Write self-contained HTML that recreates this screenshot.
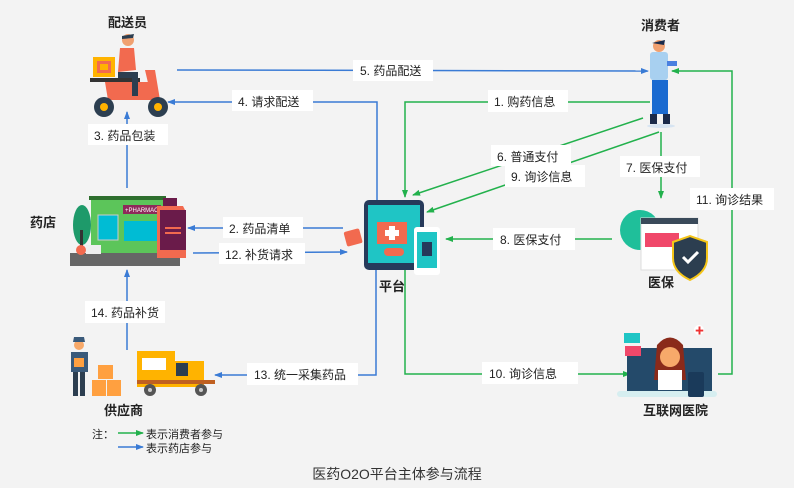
<!DOCTYPE html>
<html><head><meta charset="utf-8"><style>
html,body{margin:0;padding:0;background:#f3f3f3;}
svg{display:block;font-family:"Liberation Sans","Noto Sans CJK SC",sans-serif;}
.t{font-size:12px;fill:#222;}
.h{font-size:13px;font-weight:bold;fill:#222;}
</style></head><body>
<svg width="794" height="488" viewBox="0 0 794 488">
<defs>
<marker id="ab" markerWidth="8" markerHeight="8" refX="7" refY="4" orient="auto" markerUnits="userSpaceOnUse"><path d="M0,1 L8,4 L0,7 Z" fill="#3a7bd5"/></marker>
<marker id="ag" markerWidth="8" markerHeight="8" refX="7" refY="4" orient="auto" markerUnits="userSpaceOnUse"><path d="M0,1 L8,4 L0,7 Z" fill="#22b14c"/></marker>
</defs>
<rect width="794" height="488" fill="#f3f3f3"/>
<g fill="none" stroke-width="1.5">
<!-- blue -->
<path d="M177,70 L648,71" stroke="#3a7bd5" marker-end="url(#ab)"/>
<path d="M377,205 L377,102 L168,102" stroke="#3a7bd5" marker-end="url(#ab)"/>
<path d="M127,188 L127,112" stroke="#3a7bd5" marker-end="url(#ab)"/>
<path d="M343,228 L188,228" stroke="#3a7bd5" marker-end="url(#ab)"/>
<path d="M193,253 L347,252" stroke="#3a7bd5" marker-end="url(#ab)"/>
<path d="M127,350 L127,270" stroke="#3a7bd5" marker-end="url(#ab)"/>
<path d="M376,262 L376,375 L215,375" stroke="#3a7bd5" marker-end="url(#ab)"/>
<!-- green -->
<path d="M650,102 L405,102 L405,197" stroke="#22b14c" marker-end="url(#ag)"/>
<path d="M643,118 L413,195" stroke="#22b14c" marker-end="url(#ag)"/>
<path d="M659,132 L427,212" stroke="#22b14c" marker-end="url(#ag)"/>
<path d="M661,132 L661,198" stroke="#22b14c" marker-end="url(#ag)"/>
<path d="M612,239 L446,239" stroke="#22b14c" marker-end="url(#ag)"/>
<path d="M405,262 L405,374 L630,374" stroke="#22b14c" marker-end="url(#ag)"/>
<path d="M718,374 L732,374 L732,71 L672,71" stroke="#22b14c" marker-end="url(#ag)"/>
</g>
<!-- label boxes -->
<g fill="#fff">
<rect x="353" y="60" width="80" height="21"/>
<rect x="232" y="90" width="81" height="21"/>
<rect x="88" y="124" width="80" height="21"/>
<rect x="223" y="217" width="80" height="21"/>
<rect x="219" y="243" width="86" height="21"/>
<rect x="85" y="301" width="80" height="22"/>
<rect x="247" y="363" width="111" height="22"/>
<rect x="488" y="90" width="80" height="22"/>
<rect x="491" y="145" width="80" height="21"/>
<rect x="505" y="165" width="80" height="22"/>
<rect x="620" y="156" width="80" height="21"/>
<rect x="493" y="228" width="82" height="22"/>
<rect x="482" y="362" width="96" height="22"/>
<rect x="690" y="188" width="84" height="22"/>
</g>
<g class="t">
<text x="360" y="75">5. 药品配送</text>
<text x="238" y="106">4. 请求配送</text>
<text x="94" y="140">3. 药品包装</text>
<text x="229" y="233">2. 药品清单</text>
<text x="225" y="259">12. 补货请求</text>
<text x="91" y="317">14. 药品补货</text>
<text x="254" y="379">13. 统一采集药品</text>
<text x="494" y="106">1. 购药信息</text>
<text x="497" y="161">6. 普通支付</text>
<text x="511" y="181">9. 询诊信息</text>
<text x="626" y="172">7. 医保支付</text>
<text x="500" y="244">8. 医保支付</text>
<text x="489" y="378">10. 询诊信息</text>
<text x="696" y="204">11. 询诊结果</text>
</g>
<g class="h">
<text x="108" y="27">配送员</text>
<text x="641" y="30">消费者</text>
<text x="30" y="227">药店</text>
<text x="379" y="291">平台</text>
<text x="648" y="287">医保</text>
<text x="104" y="415">供应商</text>
<text x="643" y="415">互联网医院</text>
</g>
<!-- scooter -->
<g>
<rect x="93" y="57" width="22" height="20" fill="#ffb300"/><rect x="97" y="61" width="14" height="12" fill="#f26a4f"/><rect x="100" y="64" width="8" height="6" fill="#ffb300"/>
<rect x="90" y="78" width="50" height="4" fill="#333"/>
<path d="M105,82 L150,82 L158,100 L108,100 Z" fill="#f26a4f"/>
<path d="M145,70 L155,70 L160,100 L152,100 Z" fill="#f26a4f"/>
<circle cx="128" cy="40" r="6" fill="#f0a070"/><path d="M122,36 L134,34 L133,38 L122,39Z" fill="#2c3e50"/>
<path d="M120,48 L134,48 L136,70 L118,72 Z" fill="#f26a4f"/>
<path d="M118,72 L138,72 L138,96 L132,96 L132,78 L118,78Z" fill="#2c3e50"/>
<circle cx="104" cy="107" r="10" fill="#2c3e50"/><circle cx="104" cy="107" r="4" fill="#ffb300"/>
<circle cx="158" cy="107" r="10" fill="#2c3e50"/><circle cx="158" cy="107" r="4" fill="#ffb300"/>
</g>
<!-- pharmacy -->
<g>
<ellipse cx="82" cy="225" rx="9" ry="20" fill="#1e9a6a"/><rect x="80" y="230" width="3" height="20" fill="#333"/>
<rect x="89" y="196" width="77" height="4" fill="#2d6e2d"/>
<rect x="91" y="200" width="73" height="53" fill="#5cc55a"/>
<rect x="98" y="215" width="20" height="25" fill="#00bcd4" stroke="#ccc"/>
<rect x="123" y="205" width="38" height="9" fill="#8e2a5a"/><text x="125" y="212" font-size="6" fill="#fff">+PHARMACY+</text>
<rect x="124" y="221" width="35" height="20" fill="#00bcd4"/>
<rect x="70" y="253" width="110" height="13" fill="#666"/>
<path d="M157,206 L183,206 L186,212 L186,258 L157,258 Z" fill="#f26a4f"/><rect x="160" y="210" width="26" height="40" fill="#6a1b4a"/>
<rect x="163" y="198" width="14" height="8" fill="#6a1b4a"/>
<line x1="165" y1="228" x2="181" y2="228" stroke="#f26a4f" stroke-width="2"/><line x1="165" y1="233" x2="181" y2="233" stroke="#f26a4f" stroke-width="2"/>
<circle cx="81" cy="250" r="5" fill="#f26a4f"/><rect x="86" y="245" width="15" height="9" fill="#eee"/>
</g>
<!-- platform tablet -->
<g>
<rect x="345" y="230" width="16" height="15" rx="2" fill="#f26a4f" transform="rotate(-15 353 237)"/>
<rect x="364" y="200" width="60" height="70" rx="5" fill="#263a5a"/>
<rect x="368" y="205" width="52" height="58" fill="#1fc5c5"/>
<rect x="377" y="222" width="30" height="22" fill="#f26a4f"/><rect x="389" y="226" width="6" height="14" fill="#fff"/><rect x="385" y="230" width="14" height="6" fill="#fff"/>
<rect x="384" y="248" width="20" height="8" rx="4" fill="#f26a4f"/>
<rect x="414" y="227" width="26" height="48" rx="3" fill="#fff"/><rect x="417" y="232" width="20" height="36" fill="#1fc5c5"/><rect x="422" y="242" width="10" height="14" fill="#263a5a"/>
</g>
<!-- consumer -->
<g>
<circle cx="659" cy="46" r="6" fill="#f0a070"/><path d="M652,43 L665,40 L664,45Z" fill="#1a2a4a"/>
<rect x="650" y="52" width="18" height="28" rx="3" fill="#a8d0f0"/>
<rect x="652" y="80" width="16" height="34" fill="#1a6ad0"/>
<rect x="650" y="114" width="7" height="10" fill="#1a2a4a"/><rect x="663" y="114" width="7" height="10" fill="#1a2a4a"/>
<ellipse cx="661" cy="126" rx="14" ry="2" fill="#d6e4f2"/>
<rect x="667" y="61" width="10" height="5" fill="#4a80e0"/>
</g>
<!-- insurance -->
<g>
<circle cx="640" cy="230" r="20" fill="#1fbf9a"/>
<rect x="641" y="218" width="57" height="52" fill="#fff" stroke="#ddd"/><rect x="641" y="218" width="57" height="6" fill="#3a4a5a"/>
<rect x="645" y="233" width="34" height="14" fill="#f0486a"/>
<path d="M673,242 L690,236 L707,242 L707,258 Q707,272 690,280 Q673,272 673,258Z" fill="#2c3e50" stroke="#f5c518" stroke-width="2"/>
<path d="M683,257 L688,262 L698,252" stroke="#fff" stroke-width="3" fill="none"/>
</g>
<!-- hospital -->
<g>
<rect x="627" y="348" width="85" height="45" fill="#244a6a"/>
<rect x="617" y="391" width="100" height="6" rx="3" fill="#d6eef0"/>
<rect x="624" y="333" width="16" height="10" fill="#1fc5c5"/><rect x="625" y="346" width="16" height="10" fill="#f0486a"/>
<path d="M657,345 Q670,330 683,345 L686,380 L654,380Z" fill="#8a2a1a"/>
<circle cx="670" cy="357" r="10" fill="#f7a96a"/>
<rect x="658" y="370" width="24" height="20" fill="#fff"/>
<rect x="688" y="372" width="16" height="25" rx="2" fill="#1a3a5a"/>
<circle cx="699" cy="330" r="5" fill="#fff"/><text x="695" y="334" font-size="9" fill="#e33">✚</text>
</g>
<!-- supplier -->
<g>
<circle cx="79" cy="345" r="5" fill="#f7a96a"/><path d="M73,342 L85,342 L84,337 L74,337Z" fill="#3a5a7a"/>
<rect x="71" y="352" width="17" height="20" fill="#3a5a7a"/><rect x="74" y="358" width="10" height="9" fill="#ffa040"/>
<rect x="73" y="372" width="5" height="24" fill="#2c3e50"/><rect x="80" y="372" width="5" height="24" fill="#2c3e50"/>
<rect x="98" y="365" width="15" height="14" fill="#ffa040"/><rect x="92" y="380" width="14" height="16" fill="#ffa040"/><rect x="107" y="380" width="14" height="16" fill="#ffa040"/>
<rect x="137" y="351" width="38" height="36" fill="#ffb300"/>
<rect x="174" y="361" width="30" height="26" fill="#ffb300"/><rect x="176" y="363" width="12" height="13" fill="#2c3e50"/>
<rect x="137" y="380" width="78" height="4" fill="#c06020"/>
<rect x="142" y="358" width="24" height="12" fill="#fff"/>
<circle cx="150" cy="390" r="6" fill="#555"/><circle cx="150" cy="390" r="2" fill="#ccc"/>
<circle cx="201" cy="390" r="6" fill="#555"/><circle cx="201" cy="390" r="2" fill="#ccc"/>
</g>
<!-- legend -->
<text x="92" y="438" font-size="11" fill="#222">注：</text>
<path d="M118,433 L143,433" stroke="#22b14c" stroke-width="1.5" marker-end="url(#ag)"/>
<text x="146" y="438" font-size="11" fill="#222">表示消费者参与</text>
<path d="M118,447 L143,447" stroke="#3a7bd5" stroke-width="1.5" marker-end="url(#ab)"/>
<text x="146" y="452" font-size="11" fill="#222">表示药店参与</text>
<text x="397" y="479" font-size="14" fill="#333" text-anchor="middle">医药O2O平台主体参与流程</text>
</svg>
</body></html>
